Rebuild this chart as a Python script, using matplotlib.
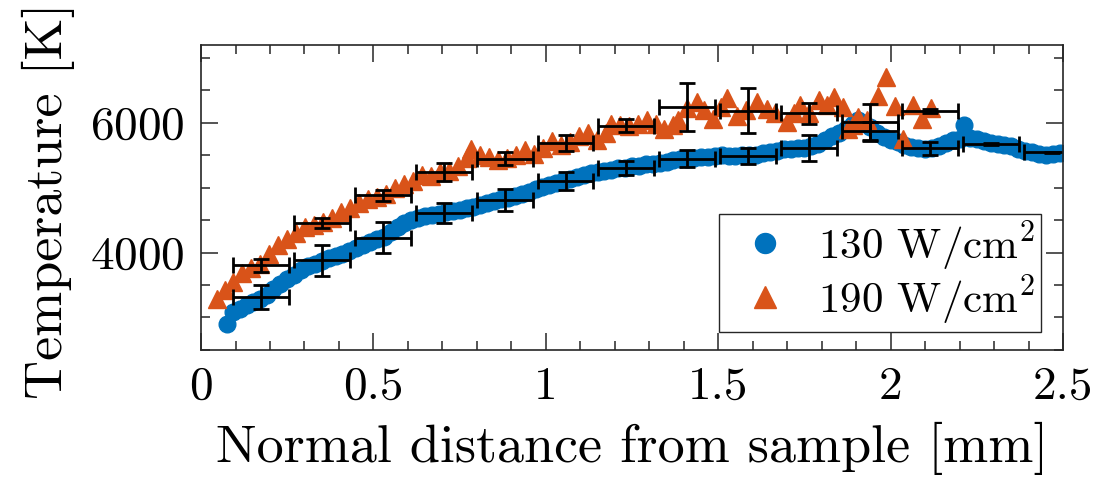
import numpy as np
import matplotlib
matplotlib.use("Agg")
import matplotlib.pyplot as plt
from matplotlib.ticker import MultipleLocator

plt.rcParams['font.family'] = 'serif'
plt.rcParams['font.serif'] = ['cmr10']
plt.rcParams['mathtext.fontset'] = 'cm'
plt.rcParams['axes.formatter.use_mathtext'] = True

# 130 W/cm2 profile
x_130 = [0.076, 0.094, 0.113, 0.132, 0.152, 0.170, 0.190, 0.210, 0.230, 0.250,
         0.270, 0.290, 0.310, 0.330, 0.350, 0.370, 0.390, 0.410, 0.430, 0.450,
         0.470, 0.490, 0.510, 0.530, 0.550, 0.570, 0.590, 0.610, 0.630, 0.650,
         0.670, 0.690, 0.710, 0.730, 0.750, 0.770, 0.790, 0.810, 0.830, 0.850,
         0.870, 0.890, 0.910, 0.930, 0.950, 0.970, 0.990, 1.010, 1.030, 1.050,
         1.070, 1.090, 1.110, 1.130, 1.150, 1.170, 1.190, 1.210, 1.230, 1.250,
         1.270, 1.290, 1.310, 1.330, 1.350, 1.370, 1.390, 1.410, 1.430, 1.450,
         1.470, 1.490, 1.510, 1.530, 1.550, 1.570, 1.590, 1.610, 1.630, 1.650,
         1.670, 1.690, 1.710, 1.730, 1.750, 1.770, 1.790, 1.810, 1.830, 1.850,
         1.870, 1.890, 1.905, 1.920, 1.940, 1.960, 1.980, 2.000, 2.020, 2.040,
         2.060, 2.080, 2.100, 2.120, 2.140, 2.160, 2.180, 2.200, 2.214, 2.230,
         2.250, 2.270, 2.290, 2.310, 2.330, 2.350, 2.370, 2.390, 2.410, 2.430,
         2.450, 2.470, 2.490]
T_130 = [2900, 3090, 3130, 3190, 3240, 3290, 3350, 3440, 3520, 3590,
         3660, 3730, 3790, 3830, 3870, 3910, 3950, 3980, 4030, 4070,
         4120, 4170, 4210, 4240, 4320, 4400, 4460, 4500, 4530, 4560,
         4580, 4600, 4620, 4640, 4660, 4690, 4710, 4740, 4760, 4790,
         4820, 4840, 4870, 4910, 4940, 4980, 5010, 5040, 5070, 5100,
         5130, 5160, 5190, 5220, 5240, 5260, 5280, 5300, 5310, 5330,
         5340, 5360, 5370, 5380, 5400, 5420, 5440, 5450, 5460, 5470,
         5480, 5490, 5500, 5490, 5490, 5500, 5500, 5510, 5530, 5550,
         5570, 5590, 5600, 5610, 5620, 5640, 5680, 5730, 5790, 5850,
         5900, 5990, 6040, 6000, 5930, 5850, 5780, 5730, 5700, 5660,
         5630, 5610, 5600, 5610, 5640, 5690, 5730, 5750, 5960, 5760,
         5750, 5720, 5690, 5680, 5660, 5640, 5600, 5570, 5550, 5520,
         5510, 5520, 5530]

# 190 W/cm2 profile
x_190 = [0.047, 0.070, 0.094, 0.120, 0.146, 0.172, 0.198, 0.224, 0.250, 0.276,
         0.302, 0.328, 0.354, 0.380, 0.406, 0.432, 0.458, 0.484, 0.510, 0.536,
         0.562, 0.588, 0.614, 0.640, 0.666, 0.692, 0.718, 0.744, 0.770, 0.783,
         0.810, 0.836, 0.862, 0.888, 0.914, 0.940, 0.966, 0.992, 1.018, 1.044,
         1.070, 1.096, 1.122, 1.148, 1.174, 1.188, 1.214, 1.240, 1.266, 1.292,
         1.318, 1.344, 1.370, 1.384, 1.410, 1.437, 1.460, 1.484, 1.508, 1.526,
         1.554, 1.580, 1.612, 1.640, 1.666, 1.698, 1.720, 1.738, 1.764, 1.792,
         1.814, 1.836, 1.862, 1.876, 1.891, 1.905, 1.930, 1.963, 1.987, 2.012,
         2.037, 2.065, 2.092, 2.118]
T_190 = [3290, 3420, 3550, 3690, 3760, 3830, 3980, 4110, 4210, 4310,
         4390, 4430, 4470, 4540, 4620, 4690, 4760, 4830, 4860, 4910,
         4990, 5060, 5100, 5200, 5180, 5250, 5260, 5340, 5460, 5600,
         5500, 5470, 5430, 5460, 5500, 5580, 5520, 5610, 5720, 5660,
         5700, 5790, 5840, 5730, 5850, 5980, 5960, 5950, 5990, 6040,
         5980, 5900, 5960, 6040, 6230, 6320, 6200, 6060, 6250, 6390,
         6110, 6200, 6320, 6210, 6150, 6010, 6150, 6280, 6150, 6350,
         6280, 6400, 6240, 5910, 5960, 6090, 6050, 6410, 6700, 6260,
         5750, 6280, 6060, 6230]

# binned averages with uncertainties
bin_x = [0.175, 0.351, 0.528, 0.704, 0.881, 1.057, 1.233, 1.410, 1.586, 1.763,
         1.939, 2.115, 2.292, 2.468]
bin_xerr = 0.081
bin_130 = [3317, 3882, 4231, 4609, 4815, 5101, 5307, 5446, 5486, 5615,
           5881, 5609, 5676, 5547]
err_130 = [180, 243, 238, 149, 172, 141, 110, 133, 123, 205,
           140, 97, 10, 10]
bin_190 = [3805, 4456, 4881, 5240, 5446, 5686, 5958, 6250, 6188, 6147,
           6009, 6188]
err_190 = [103, 74, 82, 138, 103, 120, 100, 372, 346, 159,
           287, 30]

blue = '#0072BD'
orange = '#D95319'

fig = plt.figure(figsize=(11.17, 4.82), dpi=100)
ax = fig.add_axes([0.18, 0.274, 0.7717, 0.6326])

ax.plot(x_130, T_130, 'o', color=blue, mec=blue, ms=12, label=r'130 W/cm$^2$')
ax.plot(x_190, T_190, '^', color=orange, mec=orange, ms=13, label=r'190 W/cm$^2$')

ek = dict(fmt='none', ecolor='black', elinewidth=2, capsize=5.5, capthick=2)
ax.errorbar(bin_x, bin_130, yerr=err_130, xerr=bin_xerr, **ek)
ax.errorbar(bin_x[:len(bin_190)], bin_190, yerr=err_190, xerr=bin_xerr, **ek)

ax.set_xlim(0, 2.5)
ax.set_ylim(2500, 7200)
ax.xaxis.set_major_locator(MultipleLocator(0.5))
ax.xaxis.set_minor_locator(MultipleLocator(0.1))
ax.yaxis.set_major_locator(MultipleLocator(2000))
ax.yaxis.set_minor_locator(MultipleLocator(500))
ax.set_xticks([0, 0.5, 1, 1.5, 2, 2.5])
ax.set_xticklabels(['0', '0.5', '1', '1.5', '2', '2.5'])

ax.tick_params(which='both', direction='in', top=True, right=True,
               labelsize=34, colors='#262626', labelcolor='black', width=1.1)
ax.tick_params(which='major', length=12, pad=12)
ax.tick_params(which='minor', length=6.5)
for s in ax.spines.values():
    s.set_color('#262626')
    s.set_linewidth(1.2)

ax.set_xlabel('Normal distance from sample [mm]', fontsize=39)
ax.set_ylabel('Temperature [K]', fontsize=39)
ax.xaxis.set_label_coords(0.5, -0.235)
ax.yaxis.set_label_coords(-0.146, 0.49)

leg = ax.legend(loc='lower right', bbox_to_anchor=(0.974, 0.059), fontsize=31,
                frameon=True, fancybox=False, framealpha=1, edgecolor='#262626',
                borderaxespad=0, handletextpad=0.3, borderpad=0.12,
                labelspacing=0.0, handlelength=1.9, markerscale=1.2)
leg.get_frame().set_linewidth(1)

fig.savefig('out.png', dpi=100)
